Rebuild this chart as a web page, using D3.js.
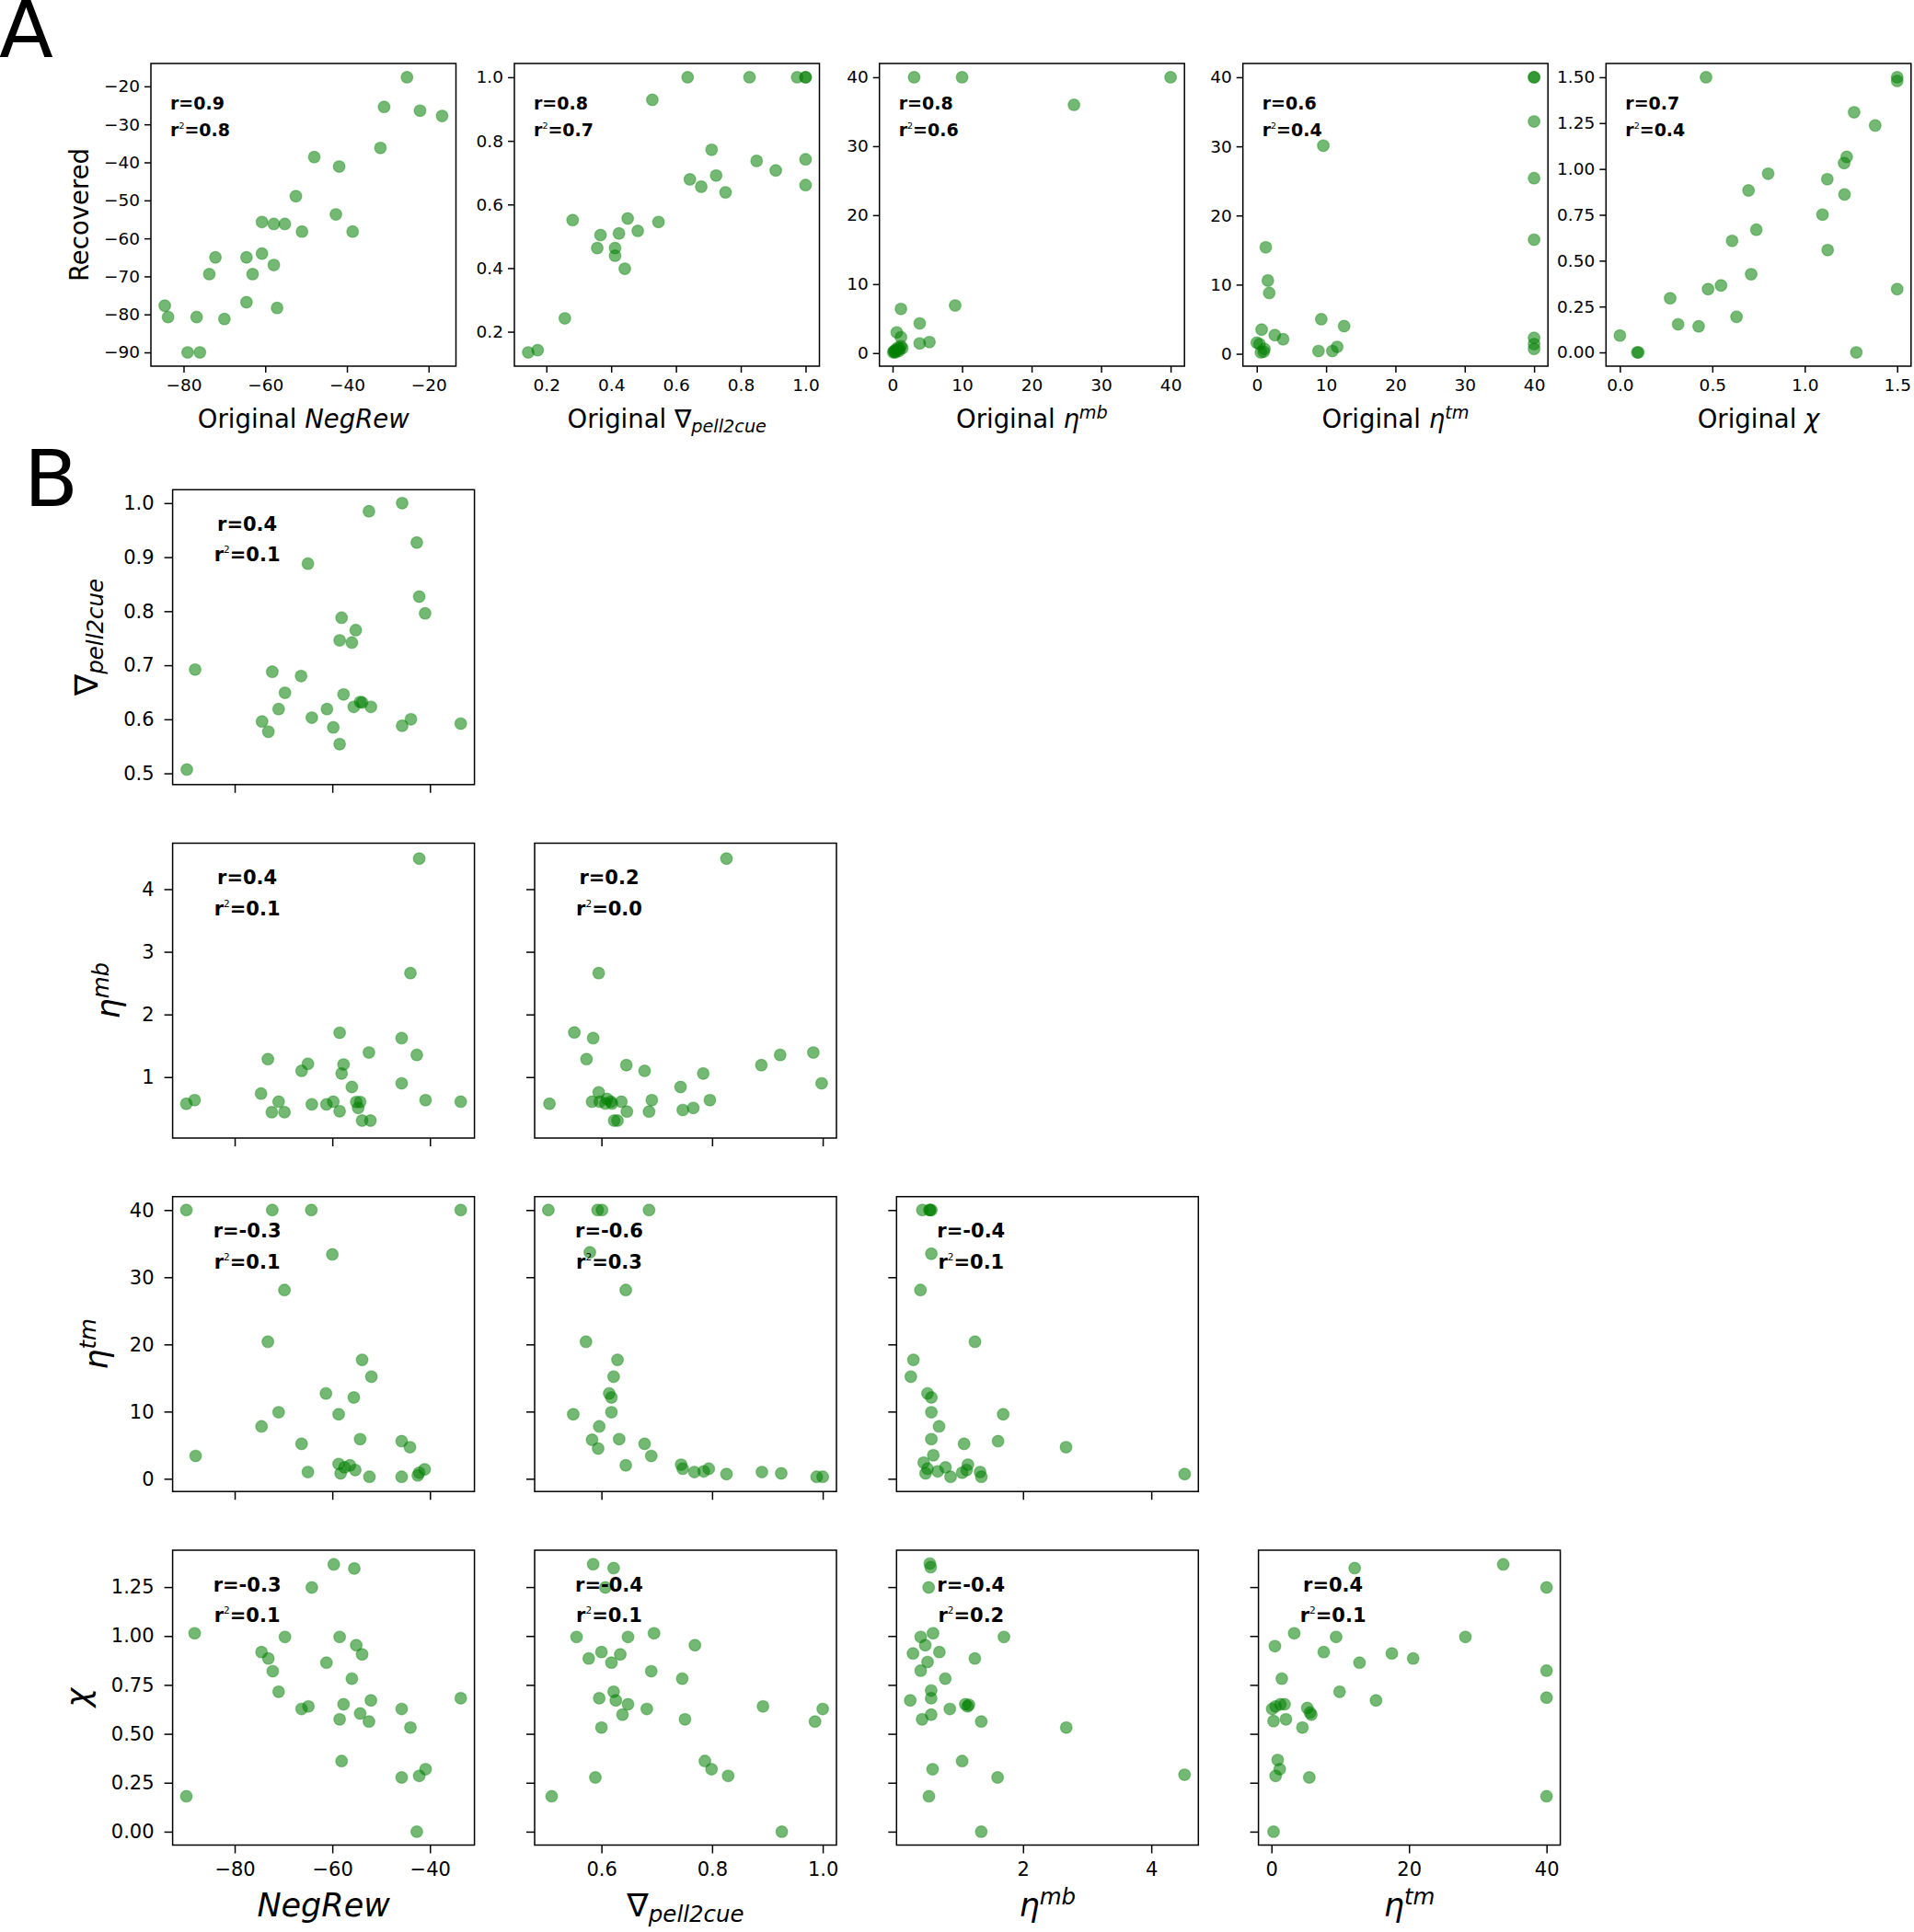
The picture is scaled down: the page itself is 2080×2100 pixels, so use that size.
<!DOCTYPE html>
<html><head><meta charset="utf-8">
<script src="https://cdn.jsdelivr.net/npm/d3@7"></script>
<style>body{margin:0;background:#fff} text{font-family:"DejaVu Sans",sans-serif}</style>
</head><body><svg id="c" width="2080" height="2100"></svg>
<script>
// ---------------- DATA ----------------
// Panel A: original vs recovered
const A_negrew_orig = [-25.3,-30.9,-22.1,-16.7,-31.8,-48,-41.9,-52.5,-42.7,-38.6,-51.0,-60.8,-57.9,-55.2,-60.8,-57.9,-64.6,-63.1,-72.2,-73.7,-64.6,-57.1,-84.6,-83.8,-76.8,-70.0,-79.0,-76.0];
const A_negrew_rec  = [-17.6,-25.4,-26.4,-27.8,-36.2,-38.6,-41.1,-48.9,-53.7,-58.2,-58.2,-55.7,-56.2,-56.2,-64.0,-67.0,-65.0,-69.4,-65.0,-69.4,-76.8,-78.3,-77.7,-80.7,-80.7,-81.2,-90,-90];
const A_grad_orig = [0.636,0.827,0.974,1.0,1.0,0.527,0.710,0.849,0.908,1.0,1.0,0.643,0.678,0.724,0.753,0.281,0.367,0.357,0.424,0.451,0.482,0.546,0.412,0.412,0.442,0.257,0.144,0.173];
const A_grad_rec  = [1.0,1.0,1.0,1.0,1.0,0.929,0.772,0.737,0.707,0.742,0.661,0.679,0.656,0.691,0.638,0.551,0.504,0.463,0.509,0.556,0.517,0.545,0.463,0.439,0.398,0.242,0.135,0.142];
const A_etamb_orig = [3.1,10,40,26.1,1.2,9.0,3.9,0.6,1.2,3.9,5.3,0.1,0.2,0.3,0.5,0.6,0.8,1.0,1.2,0.4,1.4,0.9];
const A_etamb_rec  = [40,40,40,36,6.4,6.9,4.3,3.0,2.3,1.4,1.6,0.1,0.3,0.2,0.5,0.4,0.8,0.6,1.0,0.1,0.7,0.3];
const A_etatm_orig = [40,40,40,40,40,40,40,40,9.6,1.3,1.6,1.8,0.7,2.6,3.8,0.0,0.4,1.1,1.0,9.3,12.6,8.9,10.9,11.6,0.6];
const A_etatm_rec  = [40,40,33.6,25.4,16.5,2.3,1.4,0.7,30.1,15.4,10.6,8.8,3.5,2.7,2.1,1.6,1.4,0.7,0.3,5.0,4.0,0.4,0.4,1.0,0.2];
const A_chi_orig = [0.466,1.5,1.5,1.267,1.381,1.227,1.213,0.802,1.122,0.696,1.215,1.096,0.738,0.607,1.124,0.710,0.547,0.477,1.5,0.272,0.315,0.426,0.631,0.0,0.094,0.1,1.279];
const A_chi_rec  = [1.5,1.5,1.48,1.309,1.237,1.066,1.032,0.974,0.944,0.883,0.861,0.751,0.669,0.608,0.558,0.426,0.365,0.345,0.345,0.295,0.153,0.142,0.194,0.092,0,0,0];
const A_r  = ["0.9","0.8","0.8","0.6","0.7"];
const A_r2 = ["0.8","0.7","0.6","0.4","0.4"];

// Panel B: recovered parameter pairs (x = column variable, y = row variable)
const B_grad_negrew_x = [-89.8,-88.1,-74.4,-73.1,-72.3,-71.0,-69.7,-66.4,-65.0,-64.2,-61.1,-59.8,-58.5,-58.5,-58.1,-57.7,-56.0,-55.2,-55.6,-54.3,-53.9,-52.1,-52.5,-45.7,-45.7,-43.9,-42.7,-42.2,-41.0,-33.7];
const B_grad_negrew_y = [0.507,0.692,0.596,0.577,0.688,0.619,0.649,0.680,0.888,0.603,0.619,0.585,0.554,0.746,0.788,0.646,0.742,0.765,0.623,0.632,0.631,0.623,0.985,1.0,0.588,0.600,0.927,0.827,0.796,0.592];
const B_etamb_negrew_x = [-89.9,-88.2,-74.6,-73.2,-72.4,-71.0,-69.8,-66.3,-65.0,-64.2,-61.2,-59.8,-58.5,-58.5,-58.1,-57.7,-56.0,-55.1,-54.7,-54.3,-53.9,-52.2,-52.5,-45.8,-45.8,-44.0,-42.7,-42.2,-40.9,-33.7];
const B_etamb_negrew_y = [0.574,0.632,0.737,1.287,0.440,0.608,0.440,1.100,1.211,0.565,0.565,0.608,0.455,1.708,1.057,1.201,0.842,0.603,0.507,0.603,0.306,0.306,1.392,1.622,0.900,2.660,1.354,4.488,0.632,0.608];
const B_etamb_grad_x = [0.506,0.551,0.573,0.585,0.595,0.583,0.595,0.597,0.607,0.617,0.619,0.636,0.623,0.629,0.646,0.645,0.678,0.686,0.691,0.743,0.747,0.766,0.784,0.796,0.826,0.889,0.923,0.983,0.998,0.610];
const B_etamb_grad_y = [0.574,1.713,1.287,1.622,2.660,0.608,0.756,0.608,0.579,0.608,0.579,0.608,0.306,0.306,0.450,1.191,1.100,0.450,0.632,0.842,0.474,0.507,1.057,0.632,4.488,1.191,1.354,1.392,0.900,0.651];
const B_etatm_negrew_x = [-89.9,-72.3,-64.3,-33.7,-88.0,-60.0,-69.8,-73.2,-53.9,-52.0,-61.3,-55.6,-71.0,-58.7,-74.5,-66.3,-54.3,-45.8,-44.1,-65.0,-58.7,-57.5,-58.3,-56.4,-55.3,-52.4,-45.8,-42.5,-42.2,-41.1];
const B_etatm_negrew_y = [40,40,40,40,3.4,33.4,28.1,20.4,17.7,15.2,12.7,12.1,9.9,9.6,7.8,5.2,5.9,5.6,4.7,1.0,2.2,1.7,0.8,2.0,1.3,0.3,0.3,0.5,0.9,1.4];
const B_etatm_grad_x = [0.504,0.593,0.601,0.686,0.579,0.644,0.572,0.629,0.622,0.614,0.618,0.618,0.549,0.596,0.583,0.594,0.632,0.678,0.690,0.644,0.744,0.747,0.768,0.785,0.794,0.826,0.890,0.925,0.989,1.0];
const B_etatm_grad_y = [40,40,40,40,33.7,28.1,20.4,17.7,15.2,12.7,12.1,9.9,9.6,7.8,5.8,4.5,5.9,5.2,3.4,2.0,2.1,1.5,1.0,1.1,1.5,0.7,1.0,0.8,0.3,0.3];
const B_etatm_etamb_x = [0.43,0.54,0.55,0.57,0.57,0.40,1.25,0.29,0.25,0.51,0.57,0.57,1.69,0.69,0.57,1.08,1.61,2.67,0.60,0.45,0.51,0.48,0.79,0.87,1.12,1.14,1.33,1.35,1.05,4.52,0.67];
const B_etatm_etamb_y = [40,40,40,40,33.5,28.1,20.4,17.7,15.2,12.7,12.1,9.9,9.6,7.8,5.9,5.2,5.6,4.7,3.5,2.4,1.5,0.8,1.7,0.3,1.3,2.1,1.0,0.3,0.9,0.7,1.1];
const B_chi_negrew_x = [-89.9,-88.2,-74.5,-73.1,-72.2,-71.0,-69.7,-66.3,-64.9,-64.2,-61.2,-59.7,-58.5,-58.5,-58.1,-57.7,-56.0,-55.5,-55.1,-54.3,-53.9,-52.5,-52.1,-45.8,-45.8,-44.0,-42.7,-42.2,-40.9,-33.7];
const B_chi_negrew_y = [0.181,1.014,0.918,0.885,0.820,0.715,0.995,0.627,0.640,1.248,0.864,1.366,0.995,0.574,0.361,0.651,0.782,1.345,0.953,0.604,0.906,0.563,0.671,0.627,0.277,0.532,0.0,0.285,0.319,0.682];
const B_chi_grad_x = [0.510,0.555,0.577,0.585,0.589,0.596,0.600,0.600,0.607,0.618,0.622,0.622,0.626,0.634,0.638,0.648,0.648,0.682,0.690,0.695,0.746,0.751,0.769,0.787,0.799,0.829,0.892,0.926,0.986,1.0];
const B_chi_grad_y = [0.181,0.995,0.885,1.367,0.277,0.682,0.918,0.532,1.248,0.864,1.347,0.715,0.671,0.906,0.598,0.995,0.651,0.627,0.820,1.014,0.782,0.574,0.953,0.361,0.319,0.285,0.640,0.0,0.563,0.627];
const B_chi_etamb_x = [0.546,0.560,0.528,0.404,0.596,0.475,0.284,0.695,0.511,0.404,1.248,1.702,0.787,0.567,0.567,0.241,0.858,1.099,1.135,1.156,0.567,0.426,1.348,2.674,1.050,0.589,1.603,4.518,0.532,1.348];
const B_chi_etamb_y = [1.370,1.352,1.248,0.995,1.014,0.953,0.911,0.918,0.867,0.823,0.885,0.995,0.782,0.721,0.682,0.671,0.627,0.651,0.640,0.648,0.598,0.574,0.563,0.532,0.361,0.319,0.277,0.291,0.181,0.0];
const B_chi_etatm_x = [12.1,33.7,40,3.3,9.4,28.2,0.5,7.6,17.5,20.6,12.8,40,1.5,9.9,15.2,40,0.1,0.6,1.3,1.9,5.2,5.6,0.3,2.1,5.8,4.5,0.9,1.2,0.6,5.5,40,0.3];
const B_chi_etatm_y = [1.347,1.366,1.248,1.014,0.995,0.995,0.948,0.918,0.911,0.885,0.864,0.823,0.782,0.715,0.671,0.685,0.627,0.640,0.651,0.651,0.632,0.609,0.565,0.574,0.598,0.532,0.366,0.319,0.285,0.277,0.181,0.0];
// annotations in order: (row,col) = (1,1),(2,1),(2,2),(3,1),(3,2),(3,3),(4,1),(4,2),(4,3),(4,4)
const B_r  = ["0.4","0.4","0.2","-0.3","-0.6","-0.4","-0.3","-0.4","-0.4","0.4"];
const B_r2 = ["0.1","0.1","0.0","0.1","0.3","0.1","0.1","0.1","0.2","0.1"];

// ticks
const A_negrew_ticks_x = [-80,-60,-40,-20];
const A_negrew_ticks_y = [-90,-80,-70,-60,-50,-40,-30,-20];
const A_grad_ticks = [0.2,0.4,0.6,0.8,1.0];
const A_eta_ticks = [0,10,20,30,40];
const A_chi_ticks_x = [0,0.5,1.0,1.5];
const A_chi_ticks_y = [0,0.25,0.5,0.75,1.0,1.25,1.5];
const B_negrew_ticks = [-80,-60,-40];
const B_grad_ticks_x = [0.6,0.8,1.0];
const B_grad_ticks_y = [0.5,0.6,0.7,0.8,0.9,1.0];
const B_etamb_ticks_x = [2,4];
const B_etamb_ticks_y = [1,2,3,4];
const B_etatm_ticks_x = [0,20,40];
const B_etatm_ticks_y = [0,10,20,30,40];
const B_chi_ticks = [0,0.25,0.5,0.75,1.0,1.25];

// ---------------- DRAWING ----------------
const svg = d3.select("#c");
svg.append("rect").attr("width",2080).attr("height",2100).attr("fill","#fff");
const FILL = "#008000", OPAC = 0.55, RAD = 6.4;
const fInt = d3.format("d"), f1 = d3.format(".1f"), f2 = d3.format(".2f");

function padExt(vals){ const e = d3.extent(vals); const r = e[1]-e[0]; return [e[0]-0.05*r, e[1]+0.05*r]; }

function richText(t, parts, fs){
  parts.forEach(p=>{
    const ts = t.append("tspan").text(p.t);
    if (p.i) ts.attr("font-style","italic");
    if (p.sub) ts.attr("font-size", fs*0.7).attr("dy", fs*0.18);
    if (p.sup) ts.attr("font-size", fs*0.7).attr("dy", -fs*0.36);
  });
}

function panel(c){
  const g = svg.append("g").attr("transform",`translate(${c.x0},${c.y0})`);
  const X = d3.scaleLinear().domain(c.xd).range([0,c.w]);
  const Y = d3.scaleLinear().domain(c.yd).range([c.h,0]);
  g.append("g").selectAll("circle").data(d3.zip(c.xs,c.ys)).join("circle")
    .attr("cx",d=>X(d[0])).attr("cy",d=>Y(d[1])).attr("r",RAD)
    .attr("fill",FILL).attr("fill-opacity",OPAC)
    .attr("stroke",FILL).attr("stroke-opacity",OPAC*0.6).attr("stroke-width",1.3);
  const ax = g.append("g").attr("transform",`translate(0,${c.h})`)
    .call(d3.axisBottom(X).tickValues(c.xt).tickSize(c.tl).tickPadding(c.xpad).tickFormat(c.xLab ? c.xf : ()=>""));
  const ay = g.append("g")
    .call(d3.axisLeft(Y).tickValues(c.yt).tickSize(c.tl).tickPadding(c.ypad).tickFormat(c.yLab ? c.yf : ()=>""));
  [ax,ay].forEach(a=>{
    a.select(".domain").remove();
    a.selectAll("line").attr("stroke","#000").attr("stroke-width",1.5);
    a.selectAll("text").attr("font-size",c.fs).attr("font-family","DejaVu Sans").attr("fill","#000");
  });
  g.append("rect").attr("width",c.w).attr("height",c.h).attr("fill","none").attr("stroke","#000").attr("stroke-width",1.5);
  return {g, ay};
}

function annot(g, r, r2, x, yb1, yb2, anchor, fs){
  g.append("text").attr("x",x).attr("y",yb1).attr("text-anchor",anchor).attr("font-weight","bold")
    .attr("font-size",fs).attr("fill","#000").text("r="+r);
  const t = g.append("text").attr("x",x).attr("y",yb2).attr("text-anchor",anchor).attr("font-weight","bold")
    .attr("font-size",fs).attr("fill","#000");
  t.append("tspan").text("r");
  t.append("tspan").attr("font-size",fs*0.5).attr("font-weight","normal").attr("dy",-fs*0.42).text("2");
  t.append("tspan").attr("dy",fs*0.42).text("="+r2);
}

function xLabel(g, parts, fs, cx, yb){
  const t = g.append("text").attr("x",cx).attr("y",yb).attr("text-anchor","middle").attr("font-size",fs).attr("fill","#000");
  richText(t, parts, fs);
}
function yLabel(p, parts, fs, cy, gap){
  const tickLeft = p.ay.node().getBBox().x;
  const t = p.g.append("text").attr("text-anchor","middle").attr("font-size",fs).attr("fill","#000");
  richText(t, parts, fs);
  const bb = t.node().getBBox();
  const desc = bb.y + bb.height;
  t.attr("transform",`translate(${tickLeft - gap - desc},${cy}) rotate(-90)`);
}

// panel letters
svg.append("text").attr("x",-1).attr("y",62).attr("font-family","Liberation Sans, Arial, sans-serif").attr("font-size",86).attr("fill","#000").text("A");
svg.append("text").attr("x",26).attr("y",550).attr("font-family","Liberation Sans, Arial, sans-serif").attr("font-size",86).attr("fill","#000").text("B");

// ---- Panel A ----
const AX = [164, 559, 955.7, 1350.7, 1745.3], AY = 69, AW = 331.5, AH = 329;
const Adefs = [
  {xs:A_negrew_orig, ys:A_negrew_rec, xt:A_negrew_ticks_x, yt:A_negrew_ticks_y, xf:fInt, yf:fInt, lab:[{t:"Original "},{t:"NegRew",i:1}]},
  {xs:A_grad_orig, ys:A_grad_rec, xt:A_grad_ticks, yt:A_grad_ticks, xf:f1, yf:f1, lab:[{t:"Original ∇"},{t:"pell2cue",i:1,sub:1}]},
  {xs:A_etamb_orig, ys:A_etamb_rec, xt:A_eta_ticks, yt:A_eta_ticks, xf:fInt, yf:fInt, lab:[{t:"Original "},{t:"η",i:1},{t:"mb",i:1,sup:1}]},
  {xs:A_etatm_orig, ys:A_etatm_rec, xt:A_eta_ticks, yt:A_eta_ticks, xf:fInt, yf:fInt, lab:[{t:"Original "},{t:"η",i:1},{t:"tm",i:1,sup:1}]},
  {xs:A_chi_orig, ys:A_chi_rec, xt:A_chi_ticks_x, yt:A_chi_ticks_y, xf:f1, yf:f2, lab:[{t:"Original "},{t:"χ",i:1}]}
];
Adefs.forEach((d,i)=>{
  const p = panel({x0:AX[i], y0:AY, w:AW, h:AH, xs:d.xs, ys:d.ys, xd:padExt(d.xs), yd:padExt(d.ys),
    xt:d.xt, yt:d.yt, xf:d.xf, yf:d.yf, xLab:true, yLab:true, tl:7, xpad:7, ypad:5, fs:18.5});
  annot(p.g, A_r[i], A_r2[i], 21, 50, 79, "start", 19);
  xLabel(p.g, d.lab, 27.5, AW/2, 465-AY);
  if (i===0) yLabel(p, [{t:"Recovered"}], 27.5, AH/2, 11);
});

// ---- Panel B ----
const BX = [187.6, 581, 974.3, 1367.6], BY = [532.3, 916.5, 1300.7, 1685], BW = 328, BH = 320.5;
const dom = {
  negrew: padExt([].concat(B_grad_negrew_x,B_etamb_negrew_x,B_etatm_negrew_x,B_chi_negrew_x)),
  grad: padExt([].concat(B_grad_negrew_y,B_etamb_grad_x,B_etatm_grad_x,B_chi_grad_x)),
  etamb: padExt([].concat(B_etamb_negrew_y,B_etamb_grad_y,B_etatm_etamb_x,B_chi_etamb_x)),
  etatm: padExt([].concat(B_etatm_negrew_y,B_etatm_grad_y,B_etatm_etamb_y,B_chi_etatm_x)),
  chi: padExt([].concat(B_chi_negrew_y,B_chi_grad_y,B_chi_etamb_y,B_chi_etatm_y))
};
const colVars = [
  {k:"negrew", t:B_negrew_ticks, f:fInt, lab:[{t:"NegRew",i:1}]},
  {k:"grad", t:B_grad_ticks_x, f:f1, lab:[{t:"∇"},{t:"pell2cue",i:1,sub:1}]},
  {k:"etamb", t:B_etamb_ticks_x, f:fInt, lab:[{t:"η",i:1},{t:"mb",i:1,sup:1}]},
  {k:"etatm", t:B_etatm_ticks_x, f:fInt, lab:[{t:"η",i:1},{t:"tm",i:1,sup:1}]}
];
const rowVars = [
  {k:"grad", t:B_grad_ticks_y, f:f1, lab:[{t:"∇"},{t:"pell2cue",i:1,sub:1}]},
  {k:"etamb", t:B_etamb_ticks_y, f:fInt, lab:[{t:"η",i:1},{t:"mb",i:1,sup:1}]},
  {k:"etatm", t:B_etatm_ticks_y, f:fInt, lab:[{t:"η",i:1},{t:"tm",i:1,sup:1}]},
  {k:"chi", t:B_chi_ticks, f:f2, lab:[{t:"χ",i:1}]}
];
const Bpanels = [
  [0,0,B_grad_negrew_x,B_grad_negrew_y],
  [1,0,B_etamb_negrew_x,B_etamb_negrew_y],
  [1,1,B_etamb_grad_x,B_etamb_grad_y],
  [2,0,B_etatm_negrew_x,B_etatm_negrew_y],
  [2,1,B_etatm_grad_x,B_etatm_grad_y],
  [2,2,B_etatm_etamb_x,B_etatm_etamb_y],
  [3,0,B_chi_negrew_x,B_chi_negrew_y],
  [3,1,B_chi_grad_x,B_chi_grad_y],
  [3,2,B_chi_etamb_x,B_chi_etamb_y],
  [3,3,B_chi_etatm_x,B_chi_etatm_y]
];
Bpanels.forEach((b,i)=>{
  const [r,c,xs,ys] = b;
  const cv = colVars[c], rv = rowVars[r];
  const p = panel({x0:BX[c], y0:BY[r], w:BW, h:BH, xs, ys, xd:dom[cv.k], yd:dom[rv.k],
    xt:cv.t, yt:rv.t, xf:cv.f, yf:rv.f, xLab:r===3, yLab:c===0, tl:9, xpad:10, ypad:11, fs:21});
  annot(p.g, B_r[i], B_r2[i], 81, 44.7, 78, "middle", 21);
  if (r===3) xLabel(p.g, cv.lab, 35, BW/2, 2083-BY[r]);
  if (c===0) yLabel(p, rv.lab, 35, BH/2, 16);
});
</script></body></html>
